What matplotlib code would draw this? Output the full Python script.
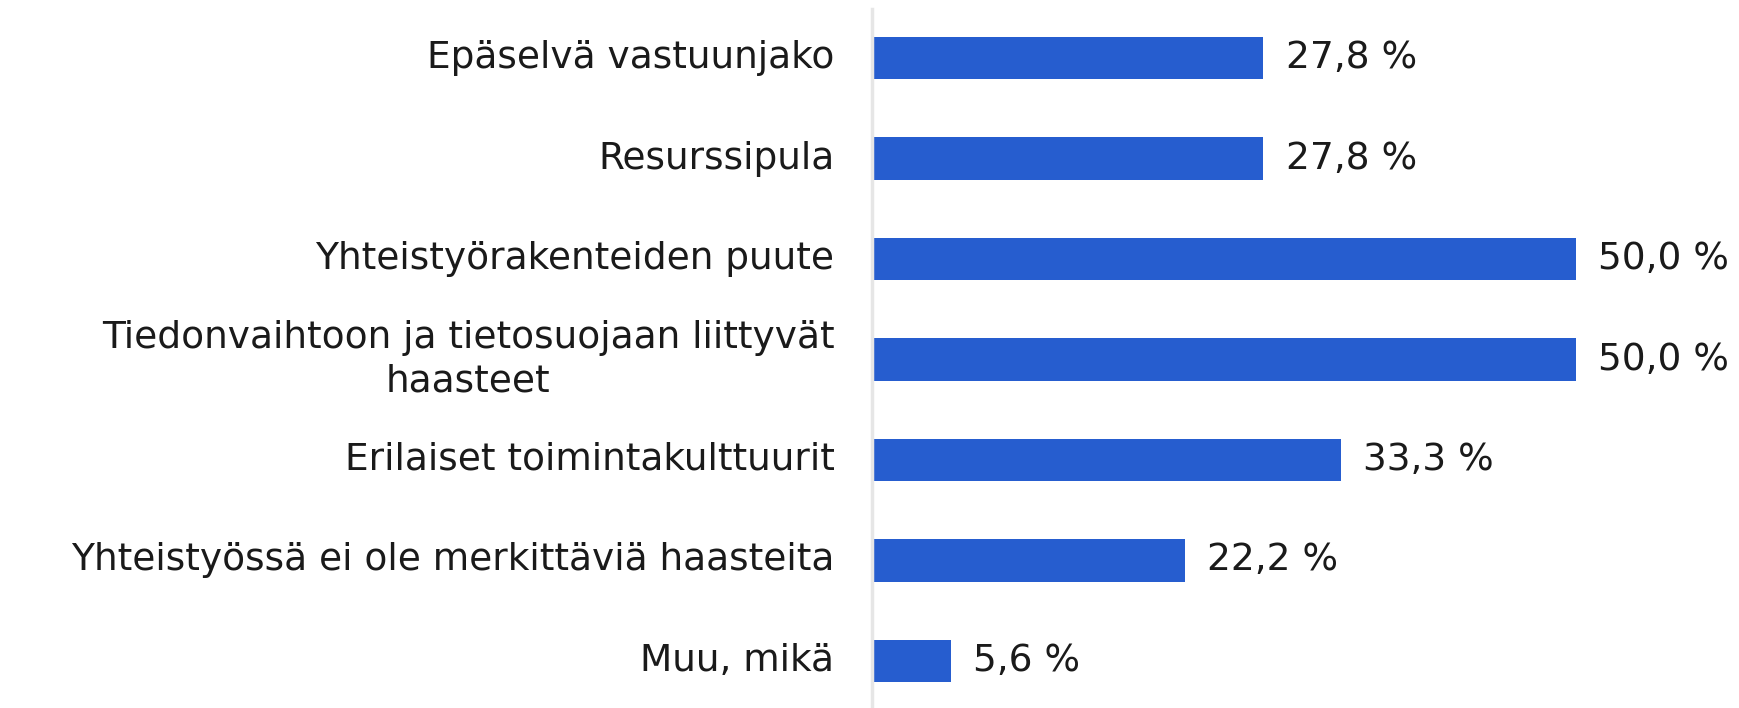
import matplotlib.pyplot as plt

categories = [
    'Epäselvä vastuunjako',
    'Resurssipula',
    'Yhteistyörakenteiden puute',
    'Tiedonvaihtoon ja tietosuojaan liittyvät\nhaasteet',
    'Erilaiset toimintakulttuurit',
    'Yhteistyössä ei ole merkittäviä haasteita',
    'Muu, mikä',
]
values = [27.8, 27.8, 50.0, 50.0, 33.3, 22.2, 5.6]
value_labels = ['27,8 %', '27,8 %', '50,0 %', '50,0 %', '33,3 %', '22,2 %', '5,6 %']

W, H = 1740, 708
fig = plt.figure(figsize=(W / 100, H / 100), dpi=100)
ax = fig.add_axes([872 / W, 0, (1576 - 872) / W, 1 - 9 / H])

ypos = list(range(len(categories)))
ax.barh(ypos, values, height=0.42, color='#265dcf')

ax.set_xlim(0, 50)
ax.set_ylim(6.468, -0.488)

fs = 27
for y, v, lab in zip(ypos, values, value_labels):
    ax.annotate(lab, (v, y), xytext=(16, 0), textcoords='offset points',
                ha='left', va='center', fontsize=fs, color='#1a1a1a',
                clip_on=False)

for y, cat in zip(ypos, categories):
    ax.annotate(cat, (0, y), xytext=(-27, 0), textcoords='offset points',
                ha='right', va='center', multialignment='center',
                fontsize=fs, color='#1a1a1a', linespacing=1.25)

ax.set_xticks([])
ax.set_yticks([])
for s in ['top', 'right', 'bottom']:
    ax.spines[s].set_visible(False)
ax.spines['left'].set_color('#e6e6e6')
ax.spines['left'].set_linewidth(2.5)

fig.savefig('out.png', dpi=100)
